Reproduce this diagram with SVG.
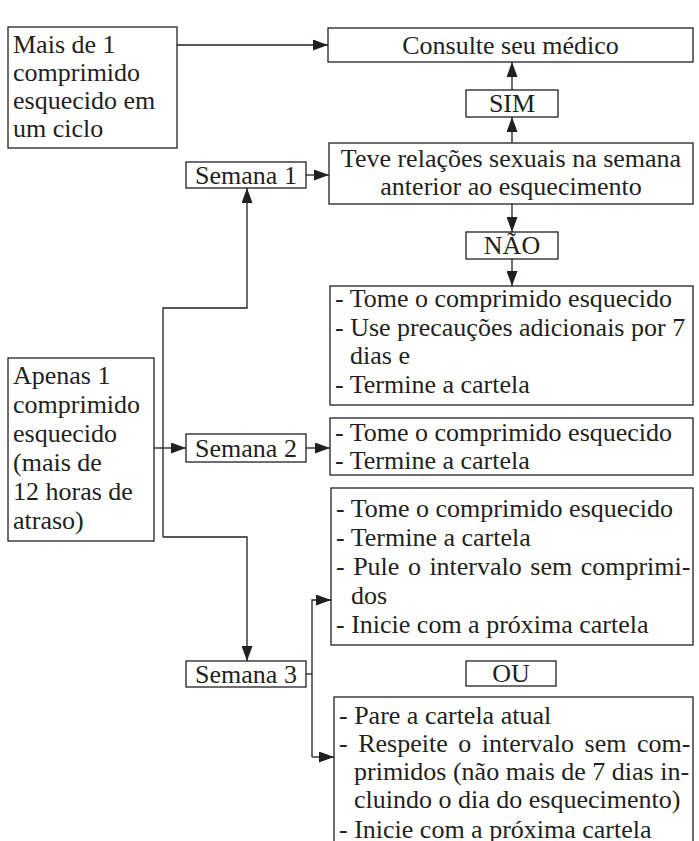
<svg xmlns="http://www.w3.org/2000/svg" width="699" height="841" viewBox="0 0 699 841">
<style>
.b{fill:#fff;stroke:#231f20;stroke-width:1.3}
.t{font-family:"Liberation Serif","Times New Roman",serif;font-size:26px;fill:#231f20}
.c{text-anchor:middle}
.l{fill:none;stroke:#231f20;stroke-width:1.3}
</style>
<defs>
<marker id="a" markerUnits="userSpaceOnUse" markerWidth="15" markerHeight="11" refX="15" refY="5.5" orient="auto">
<path d="M0,0 L15,5.5 L0,11 z" fill="#231f20"/>
</marker>
</defs>
<rect width="699" height="841" fill="#fff"/>
<g id="connectors">
<path class="l" d="M177,45 H328" marker-end="url(#a)"/>
<path class="l" d="M512,143 V117" marker-end="url(#a)"/>
<path class="l" d="M512,90 V62" marker-end="url(#a)"/>
<path class="l" d="M512,204 V232" marker-end="url(#a)"/>
<path class="l" d="M512,259 V286" marker-end="url(#a)"/>
<path class="l" d="M306,175 H329" marker-end="url(#a)"/>
<path class="l" d="M163,537 V308 H247 V188" marker-end="url(#a)"/>
<path class="l" d="M163,537 H247 V661" marker-end="url(#a)"/>
<path class="l" d="M154,448 H186" marker-end="url(#a)"/>
<path class="l" d="M306,448 H330" marker-end="url(#a)"/>
<path class="l" d="M306,674 H312"/>
<path class="l" d="M312,757 V600 H331" marker-end="url(#a)"/>
<path class="l" d="M312,757 H334" marker-end="url(#a)"/>
</g>
<g id="mais">
<rect class="b" x="8" y="27" width="169" height="121"/>
<text class="t" x="13" y="53">Mais de 1</text>
<text class="t" x="13" y="81">comprimido</text>
<text class="t" x="13" y="109">esquecido em</text>
<text class="t" x="13" y="137">um ciclo</text>
</g>
<g id="consulte">
<rect class="b" x="328" y="28" width="365" height="34"/>
<text class="t c" x="510.5" y="54">Consulte seu médico</text>
</g>
<g id="sim">
<rect class="b" x="466" y="90" width="92" height="27"/>
<text class="t c" x="512" y="112">SIM</text>
</g>
<g id="teve">
<rect class="b" x="329" y="143" width="364" height="61"/>
<text class="t c" x="511" y="167">Teve relações sexuais na semana</text>
<text class="t c" x="511" y="195">anterior ao esquecimento</text>
</g>
<g id="semana1">
<rect class="b" x="186" y="162" width="120" height="26"/>
<text class="t c" x="246" y="184">Semana 1</text>
</g>
<g id="nao">
<rect class="b" x="466" y="232" width="92" height="27"/>
<text class="t c" x="512" y="254">NÃO</text>
</g>
<g id="res1">
<rect class="b" x="330" y="286" width="363" height="119"/>
<text class="t" x="335" y="307">- Tome o comprimido esquecido</text>
<text class="t" x="335" y="336">- Use precauções adicionais por 7</text>
<text class="t" x="350" y="364">dias e</text>
<text class="t" x="335" y="393">- Termine a cartela</text>
</g>
<g id="apenas">
<rect class="b" x="8" y="358" width="146" height="183"/>
<text class="t" x="13" y="384">Apenas 1</text>
<text class="t" x="13" y="413">comprimido</text>
<text class="t" x="13" y="442">esquecido</text>
<text class="t" x="13" y="471">(mais de</text>
<text class="t" x="13" y="500">12 horas de</text>
<text class="t" x="13" y="529">atraso)</text>
</g>
<g id="semana2">
<rect class="b" x="186" y="434" width="120" height="28"/>
<text class="t c" x="246" y="457">Semana 2</text>
</g>
<g id="res2">
<rect class="b" x="330" y="418" width="363" height="57"/>
<text class="t" x="335" y="441">- Tome o comprimido esquecido</text>
<text class="t" x="335" y="469">- Termine a cartela</text>
</g>
<g id="res3a">
<rect class="b" x="331" y="488" width="362" height="157"/>
<text class="t" x="336" y="517">- Tome o comprimido esquecido</text>
<text class="t" x="336" y="546">- Termine a cartela</text>
<text class="t" x="336" y="575" word-spacing="2">- Pule o intervalo sem comprimi-</text>
<text class="t" x="351" y="604">dos</text>
<text class="t" x="336" y="633">- Inicie com a próxima cartela</text>
</g>
<g id="ou">
<rect class="b" x="466" y="661" width="90" height="25"/>
<text class="t c" x="511" y="682">OU</text>
</g>
<g id="semana3">
<rect class="b" x="186" y="661" width="120" height="26"/>
<text class="t c" x="246" y="683">Semana 3</text>
</g>
<g id="res3b">
<rect class="b" x="334" y="697" width="359" height="160"/>
<text class="t" x="339" y="724">- Pare a cartela atual</text>
<text class="t" x="339" y="752" word-spacing="4">- Respeite o intervalo sem com-</text>
<text class="t" x="354" y="780">primidos (não mais de 7 dias in-</text>
<text class="t" x="354" y="808">cluindo o dia do esquecimento)</text>
<text class="t" x="339" y="838">- Inicie com a próxima cartela</text>
</g>
</svg>
